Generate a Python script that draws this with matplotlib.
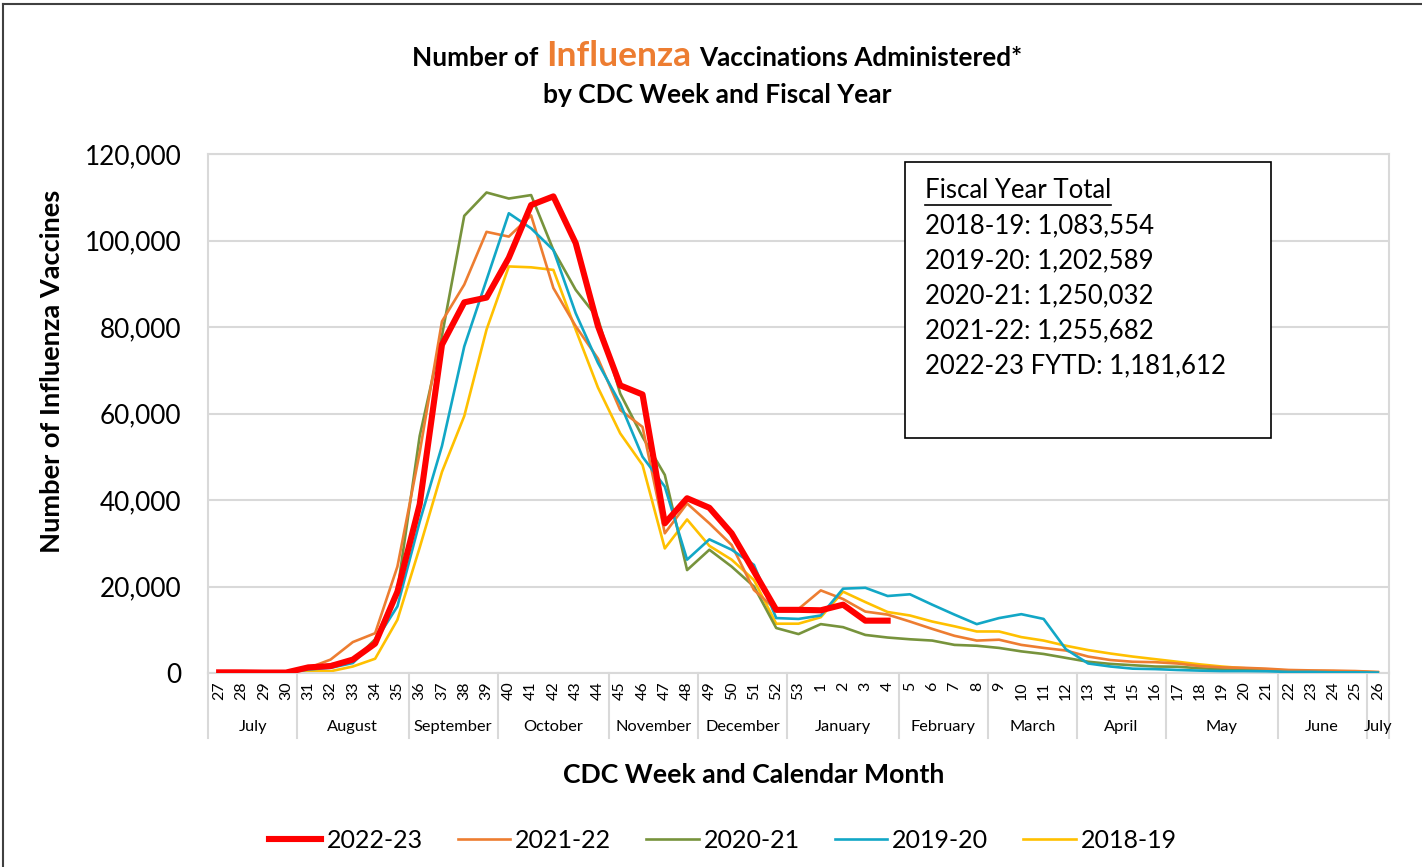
import numpy as np
import matplotlib
matplotlib.use("Agg")
import matplotlib.pyplot as plt
from matplotlib.lines import Line2D
from matplotlib.patches import Rectangle
from matplotlib.ticker import FuncFormatter

plt.rcParams['font.family'] = ['Lato', 'DejaVu Sans']

#--------------------------------
# data
#--------------------------------
weeks = list(range(27, 53)) + [53] + list(range(1, 27))
months = ["July", "August", "September", "October", "November", "December",
          "January", "February", "March", "April", "May", "June", "July"]
month_weeks = [4, 5, 4, 5, 4, 4, 5, 4, 4, 4, 5, 4, 1]

# 2022-23 is fiscal year to date (ends at week 4)
fy2223 = [150, 150, 100, 100, 1300, 1600, 3100, 6800, 18800, 39000, 75900, 85700,
          86800, 96000, 108200, 110200, 99400, 80200, 66500, 64400, 34600, 40400,
          38200, 32300, 23500, 14600, 14600, 14500, 15800, 12100, 12100]
fy2122 = [100, 100, 100, 100, 1150, 3100, 7150, 9200, 24600, 51000, 81300, 89800,
          102000, 100900, 105800, 89000, 80200, 72700, 60800, 56900, 32300, 39200,
          34600, 29600, 19200, 14600, 14800, 19100, 17100, 14200, 13500, 11900,
          10200, 8600, 7500, 7700, 6500, 5800, 5200, 3800, 3000, 2600, 2500, 2200,
          1600, 1300, 1200, 1000, 700, 600, 550, 450, 250]
fy2021 = [100, 100, 100, 100, 1200, 2000, 2700, 7800, 19000, 54800, 78000, 105700,
          111100, 109700, 110500, 97800, 88600, 82000, 64600, 54600, 45800, 23800,
          28500, 24600, 20000, 10400, 9000, 11300, 10600, 8800, 8200, 7800, 7500,
          6500, 6300, 5800, 5000, 4400, 3500, 2600, 2100, 1800, 1500, 1450, 1100,
          850, 700, 550, 400, 300, 300, 250, 100]
fy1920 = [50, 50, 50, 50, 800, 1200, 2300, 7300, 15400, 35000, 52500, 75500, 90900,
          106300, 102800, 97800, 83200, 71700, 62300, 50000, 43100, 26200, 30900,
          28500, 25000, 12700, 12500, 13300, 19500, 19700, 17800, 18200, 15800,
          13500, 11300, 12700, 13600, 12500, 5500, 2200, 1500, 1000, 900, 700, 550,
          450, 450, 400, 250, 250, 150, 150, 100]
fy1819 = [50, 50, 50, 50, 400, 400, 1500, 3300, 12300, 29000, 46500, 59400, 79400,
          94000, 93800, 93200, 79400, 66000, 55400, 48100, 28800, 35500, 29400,
          26200, 21500, 11400, 11400, 12900, 18800, 16400, 14100, 13300, 11900,
          10800, 9600, 9600, 8300, 7500, 6300, 5300, 4500, 3800, 3200, 2600, 2000,
          1500, 1100, 850, 550, 450, 400, 300, 150]

totals = ["2018-19: 1,083,554", "2019-20: 1,202,589", "2020-21: 1,250,032",
          "2021-22: 1,255,682", "2022-23 FYTD: 1,181,612"]

#--------------------------------
# figure
#--------------------------------
W, H = 1422, 867
fig = plt.figure(figsize=(W / 100, H / 100), dpi=100)
ax = fig.add_axes([208 / W, 1 - 673 / H, (1389 - 208) / W, (673 - 154) / H])

x = np.arange(len(weeks))
series = [("2022-23", fy2223, "#FF0000", 4.4, 5),
          ("2021-22", fy2122, "#ED7D31", 1.9, 3),
          ("2020-21", fy2021, "#77933C", 1.9, 2),
          ("2019-20", fy1920, "#12A7C6", 1.9, 4),
          ("2018-19", fy1819, "#FFC000", 1.9, 1)]
handles = []
for name, vals, col, lw, z in series:
    ln, = ax.plot(x[:len(vals)], vals, color=col, lw=lw, zorder=z, label=name)
    handles.append(ln)

ax.set_xlim(-0.5, len(weeks) - 0.5)
ax.set_ylim(0, 120000)
ax.set_yticks(np.arange(0, 120001, 20000))
ax.yaxis.set_major_formatter(FuncFormatter(lambda v, p: f"{v:,.0f}"))
ax.yaxis.grid(True, color="#d9d9d9", lw=1.5)
ax.set_axisbelow(True)
for s in ax.spines.values():
    s.set_color("#d9d9d9")
    s.set_linewidth(1.5)
ax.tick_params(axis="y", length=0, pad=19, labelsize=18.8)
ax.set_xticks(x)
ax.set_xticklabels([str(w) for w in weeks], rotation=90, fontsize=11.5)
ax.tick_params(axis="x", length=0, pad=6)

# month groups under the week labels
trans = ax.get_xaxis_transform()
start = 0
bounds = [-0.5]
for m, n in zip(months, month_weeks):
    ax.text(start + (n - 1) / 2, -0.104, m, transform=trans, ha="center",
            va="center", fontsize=11.8)
    start += n
    bounds.append(start - 0.5)
for b in bounds:
    ax.plot([b, b], [0, -0.125], transform=trans, clip_on=False,
            color="#d9d9d9", lw=1.5)

# axis titles
fig.text(52 / W, 1 - 371 / H, "Number of Influenza Vaccines", rotation=90,
         ha="center", va="center", fontsize=19.6, weight="bold")
fig.text(754 / W, 1 - 775 / H, "CDC Week and Calendar Month",
         ha="center", va="center", fontsize=19.2, weight="bold")

# title with the orange word
r = fig.canvas.get_renderer()
parts = [("Number of", "black", 18.8), ("Influenza", "#ED7D31", 25.5),
         ("Vaccinations Administered*", "black", 18.8)]
texts = [fig.text(0, 1 - 66 / H, s, color=c, fontsize=fs, weight="bold",
                  va="baseline") for s, c, fs in parts]
widths = [t.get_window_extent(r).width for t in texts]
gap = 8
x0 = 717 - (sum(widths) + gap * 2) / 2
for t, w in zip(texts, widths):
    t.set_x(x0 / W)
    x0 += w + gap
fig.text(717 / W, 1 - 95 / H, "by CDC Week and Fiscal Year", ha="center",
         va="center", fontsize=19, weight="bold")

# totals box
fig.add_artist(Rectangle((905 / W, 1 - 438 / H), (1271 - 905) / W, (438 - 162) / H,
                         transform=fig.transFigure, facecolor="white",
                         edgecolor="black", lw=1.2, zorder=2))
hdr = fig.text(925 / W, 1 - 191 / H, "Fiscal Year Total", va="center",
               fontsize=18.5, zorder=3)
bb = hdr.get_window_extent(r)
fig.add_artist(Line2D([bb.x0 / W, bb.x1 / W], [(bb.y0 - 1) / H, (bb.y0 - 1) / H],
                      transform=fig.transFigure, color="black", lw=1.2, zorder=3))
for i, t in enumerate(totals):
    fig.text(925 / W, 1 - (226 + 35 * i) / H, t, va="center", fontsize=18.5, zorder=3)

# legend
fig.legend(handles=handles, loc="center", bbox_to_anchor=(723 / W, 1 - 840 / H),
           ncol=5, frameon=False, fontsize=18, handlelength=2.1,
           handletextpad=0.2, columnspacing=1.4)

# chart border
fig.add_artist(Line2D([3 / W, 3 / W], [0, 1 - 4 / H], transform=fig.transFigure,
                      color="#404040", lw=1.5))
fig.add_artist(Line2D([3 / W, 1], [1 - 4 / H, 1 - 4 / H], transform=fig.transFigure,
                      color="#404040", lw=1.5))

fig.savefig("out.png", dpi=100)
